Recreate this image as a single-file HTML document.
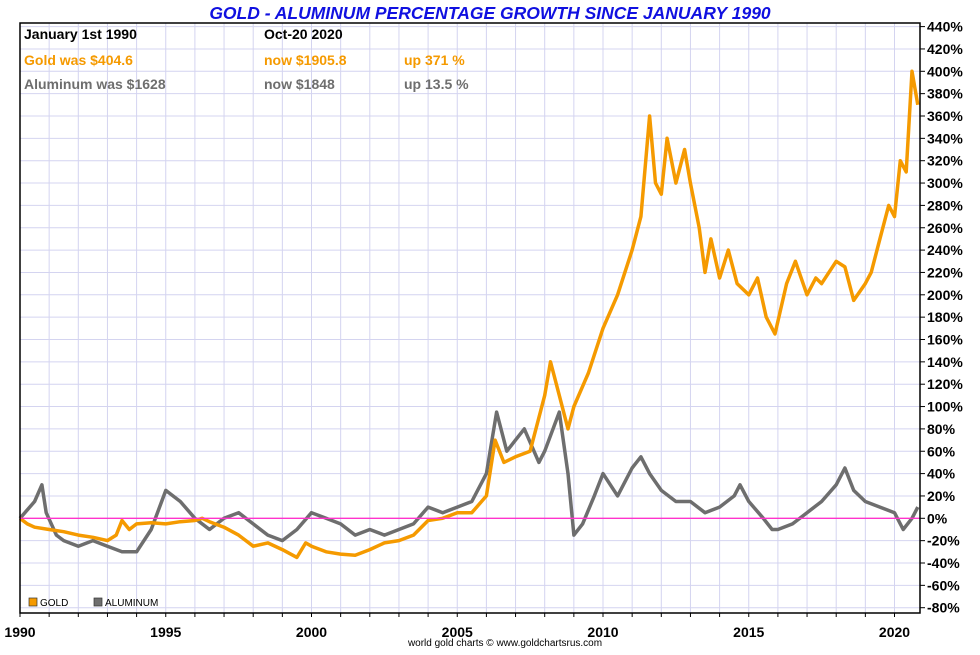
<!DOCTYPE html>
<html><head><meta charset="utf-8"><style>
body{margin:0;background:#fff;font-family:"Liberation Sans",sans-serif}
svg text{font-family:"Liberation Sans",sans-serif}
</style></head><body>
<svg id="c" width="980" height="650" xmlns="http://www.w3.org/2000/svg">
<text x="490" y="19" text-anchor="middle" font-size="17.5" font-weight="bold" font-style="italic" fill="#1010e0">GOLD - ALUMINUM PERCENTAGE GROWTH SINCE JANUARY 1990</text>
<g id="grid"></g>
<g id="marks"></g>
<g id="axes"></g>
<g font-size="14" font-weight="bold">
<text x="24" y="39" fill="#000">January 1st 1990</text>
<text x="264" y="39" fill="#000">Oct-20  2020</text>
<text x="24" y="65" fill="#f59a00">Gold was $404.6</text>
<text x="264" y="65" fill="#f59a00">now $1905.8</text>
<text x="404" y="65" fill="#f59a00">up 371 %</text>
<text x="24" y="89" fill="#6e6e6e">Aluminum was $1628</text>
<text x="264" y="89" fill="#6e6e6e">now $1848</text>
<text x="404" y="89" fill="#6e6e6e">up 13.5 %</text>
</g>
<g font-size="10">
<rect x="29" y="598" width="8" height="8" fill="#f59a00" stroke="#333" stroke-width="0.7"/>
<text x="40" y="606">GOLD</text>
<rect x="94" y="598" width="8" height="8" fill="#6e6e6e" stroke="#333" stroke-width="0.7"/>
<text x="105" y="606">ALUMINUM</text>
</g>
<text x="505" y="646" text-anchor="middle" font-size="10">world gold charts © www.goldchartsrus.com</text>
</svg>
<script>
const goldYears=[1990,1990.25,1990.5,1991,1991.5,1992,1992.5,1993,1993.3,1993.5,1993.75,1994,1994.5,1995,1995.5,1996,1996.25,1996.5,1997,1997.5,1998,1998.5,1999,1999.5,1999.8,2000,2000.5,2001,2001.5,2002,2002.5,2003,2003.5,2004,2004.5,2005,2005.5,2006,2006.3,2006.6,2007,2007.5,2008,2008.2,2008.5,2008.8,2009,2009.5,2010,2010.5,2011,2011.3,2011.6,2011.8,2012,2012.2,2012.5,2012.8,2013,2013.3,2013.5,2013.7,2014,2014.3,2014.6,2015,2015.3,2015.6,2015.9,2016.3,2016.6,2017,2017.3,2017.5,2018,2018.3,2018.6,2019,2019.2,2019.5,2019.8,2020,2020.2,2020.4,2020.6,2020.8];
const goldValues=[0,-5,-8,-10,-12,-15,-17,-20,-15,-2,-10,-5,-4,-5,-3,-2,0,-3,-8,-15,-25,-22,-28,-35,-22,-25,-30,-32,-33,-28,-22,-20,-15,-2,0,5,5,20,70,50,55,60,110,140,110,80,100,130,170,200,240,270,360,300,290,340,300,330,300,260,220,250,215,240,210,200,215,180,165,210,230,200,215,210,230,225,195,210,220,250,280,270,320,310,400,370];
const alumYears=[1990,1990.5,1990.75,1990.9,1991.25,1991.5,1992,1992.5,1993,1993.5,1994,1994.5,1995,1995.5,1996,1996.5,1997,1997.5,1998,1998.5,1999,1999.5,2000,2000.5,2001,2001.5,2002,2002.5,2003,2003.5,2004,2004.5,2005,2005.5,2006,2006.35,2006.7,2007,2007.3,2007.8,2008,2008.5,2008.8,2009,2009.3,2009.7,2010,2010.5,2011,2011.3,2011.6,2012,2012.5,2013,2013.5,2014,2014.5,2014.7,2015,2015.5,2015.8,2016,2016.5,2017,2017.5,2018,2018.3,2018.6,2019,2019.5,2020,2020.3,2020.6,2020.8];
const alumValues=[0,15,30,5,-15,-20,-25,-20,-25,-30,-30,-10,25,15,0,-10,0,5,-5,-15,-20,-10,5,0,-5,-15,-10,-15,-10,-5,10,5,10,15,40,95,60,70,80,50,60,95,40,-15,-5,20,40,20,45,55,40,25,15,15,5,10,20,30,15,0,-10,-10,-5,5,15,30,45,25,15,10,5,-10,0,10];
const yTicks=[440,420,400,380,360,340,320,300,280,260,240,220,200,180,160,140,120,100,80,60,40,20,0,-20,-40,-60,-80];
const xLabels=[1990,1995,2000,2005,2010,2015,2020];

const L=20,R=920,T=23,B=613;
const X=y=>L+(y-1990)*29.15;
const Y=v=>518.3-v*1.1175;
const NS="http://www.w3.org/2000/svg";
function mk(tag,attrs,parent){const e=document.createElementNS(NS,tag);for(const k in attrs)e.setAttribute(k,attrs[k]);parent.appendChild(e);return e;}
const grid=document.getElementById('grid'),marks=document.getElementById('marks'),axes=document.getElementById('axes');
for(let yr=1991;yr<=2020;yr++){const l=mk('line',{x1:X(yr),x2:X(yr),y1:T,y2:B,stroke:'#d4d4f0','stroke-width':1},grid);

}
yTicks.forEach(v=>{if(v===0)return;const l=mk('line',{x1:L,x2:R,y1:Y(v),y2:Y(v),stroke:'#d4d4f0','stroke-width':1},grid);

});
function series(ys,vs,color,name){const p=mk('polyline',{points:ys.map((y,i)=>X(y).toFixed(1)+','+Y(vs[i]).toFixed(1)).join(' '),fill:'none',stroke:color,'stroke-width':3.5,'stroke-linejoin':'round'},marks);

}
series(alumYears,alumValues,'#6e6e6e','aluminum-line');
series(goldYears,goldValues,'#f59a00','gold-line');
const z=mk('line',{x1:L,x2:R,y1:Y(0),y2:Y(0),stroke:'#ff33cc','stroke-width':1.3},marks);


const fr=mk('rect',{x:L,y:T,width:R-L,height:B-T,fill:'none',stroke:'#000','stroke-width':1.5},axes);


yTicks.forEach(v=>{mk('line',{x1:R,x2:R+5,y1:Y(v),y2:Y(v),stroke:'#000'},axes);
const t=mk('text',{x:R+7,y:Y(v)+5,'font-size':14,'font-weight':'bold'},axes);t.textContent=v+'%';

});
for(let yr=1990;yr<=2020;yr++){mk('line',{x1:X(yr),x2:X(yr),y1:B,y2:B+4,stroke:'#000'},axes);}
xLabels.forEach(yr=>{const t=mk('text',{x:X(yr),y:637,'font-size':14,'font-weight':'bold','text-anchor':'middle'},axes);t.textContent=yr;

});
</script>
</body></html>
